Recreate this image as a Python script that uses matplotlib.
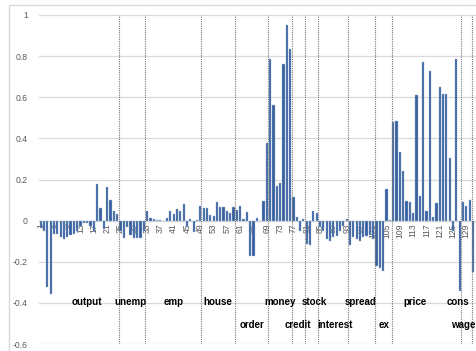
import matplotlib
matplotlib.use("Agg")
import matplotlib.pyplot as plt
from matplotlib.patches import Rectangle

# Loadings for each indicator, in series order 1..131
values = [
    -0.037, -0.05, -0.325, -0.355, -0.065, -0.065, -0.08, -0.09, -0.08, -0.07,
    -0.065, -0.05, -0.025, -0.013, -0.013, -0.025, -0.05, 0.18, 0.06, -0.04,
    0.165, 0.10, 0.045, 0.03, -0.05, -0.085, -0.03, -0.07, -0.085, -0.085,
    -0.085, -0.05, 0.045, 0.012, 0.01, 0.005, 0.002, 0.0, 0.012, 0.047,
    0.033, 0.055, 0.047, 0.081, -0.03, 0.01, -0.057, 0.005, 0.073, 0.059,
    0.059, 0.028, 0.021, 0.089, 0.065, 0.065, 0.049, 0.037, 0.068, 0.054,
    0.073, 0.008, 0.04, -0.17, -0.17, 0.013, 0.0, 0.094, 0.377, 0.784,
    0.56, 0.17, 0.184, 0.764, 0.95, 0.833, 0.117, 0.02, -0.049, 0.01,
    -0.114, -0.12, 0.049, 0.037, -0.03, -0.05, -0.09, -0.1, -0.08, -0.075,
    -0.05, -0.025, 0.01, -0.12, -0.08, -0.09, -0.1, -0.08, -0.075, -0.07,
    -0.09, -0.22, -0.23, -0.245, 0.155, 0.005, 0.48, 0.485, 0.333, 0.24,
    0.094, 0.089, 0.037, 0.613, 0.122, 0.772, 0.049, 0.727, 0.02, 0.086,
    0.65, 0.618, 0.615, 0.306, -0.05, 0.784, -0.34, 0.093, 0.073, 0.102,
    -0.25,
]
index = list(range(1, len(values) + 1))

x_tick_values = list(range(1, 130, 4))
y_tick_values = [1, 0.8, 0.6, 0.4, 0.2, 0, -0.2, -0.4, -0.6]
y_tick_labels = ["1", "0.8", "0.6", "0.4", "0.2", "0", "-0.2", "-0.4", "-0.6"]

# Group names: upper row and lower row, with their centre positions
upper_groups = ["output", "unemp", "emp", "house", "money", "stock", "spread", "price", "cons"]
upper_centers = [14.85, 27.9, 40.9, 54.4, 72.9, 83.3, 97.3, 113.6, 126.5]
lower_groups = ["order", "credit", "interest", "ex", "wage"]
lower_centers = [64.5, 78.4, 89.5, 104.3, 128.0]

# Block boundaries between indicator groups
group_bounds = [24.5, 32.5, 49.2, 59.5, 69.5, 76.5, 80.5, 84.5, 93.5, 101.5, 106.5, 127.5, 130.6]

W, H = 476, 351
fig = plt.figure(figsize=(W / 100, H / 100), dpi=100)
fig.patch.set_facecolor("white")

left_px, top_px, bottom_px = 39, 15, 344
ax = fig.add_axes([left_px / W, (H - bottom_px) / H, 1 - left_px / W, (bottom_px - top_px) / H])

# category axis crosses at zero
for s in ["left", "right", "top"]:
    ax.spines[s].set_visible(False)
ax.spines["bottom"].set_position(("data", 0))
ax.spines["bottom"].set_color("#d9d9d9")
ax.spines["bottom"].set_linewidth(0.9)

ax.bar(index, values, width=0.66, color="#36609c", edgecolor="#9fb6d8",
       linewidth=0.3, zorder=3)

ax.set_xlim(0.5, 131.9)
ax.set_ylim(-0.6, 1.0)

# horizontal gridlines
for yv in y_tick_values:
    ax.axhline(yv, color="#d9d9d9", lw=0.9 if yv != 1 else 1.6, zorder=1)

for xb in group_bounds:
    ax.axvline(xb, color="#7a7a7a", lw=0.8, ls=(0, (1, 1)), zorder=4)

ax.tick_params(axis="both", length=0)
ax.tick_params(axis="y", pad=8)
ax.tick_params(axis="x", pad=2)

tick_font = dict(family="Liberation Sans", size=6.2, color="#595959")
ax.set_yticks(y_tick_values)
ax.set_yticklabels(y_tick_labels, **tick_font)
ax.set_xticks(x_tick_values)
ax.set_xticklabels([str(v) for v in x_tick_values], rotation=90, **tick_font)

label_font = dict(family="Liberation Sans", size=7, weight="bold", color="black",
                  ha="center", va="center", zorder=5)
for name, cx in zip(upper_groups, upper_centers):
    ax.text(cx, -0.395, name, **label_font)
for name, cx in zip(lower_groups, lower_centers):
    ax.text(cx, -0.507, name, clip_on=False, **label_font)

# chart area border
fig.patches.append(Rectangle((9 / W, -0.2), 1.2, 1.2 - 5 / H, transform=fig.transFigure,
                             fill=False, edgecolor="#d9d9d9", lw=1.0))

fig.savefig("out.png", dpi=100, facecolor="white")
